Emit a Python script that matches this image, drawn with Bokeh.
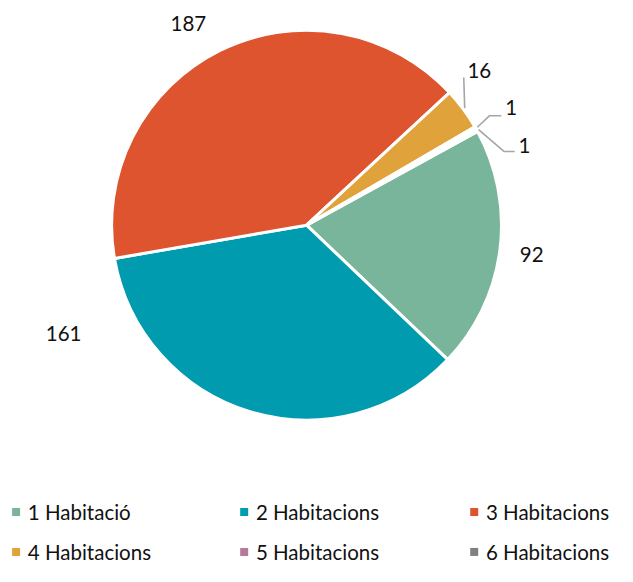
import math
from bokeh.plotting import figure
from bokeh.models import Range1d, ColumnDataSource
from bokeh.core.properties import value
from bokeh.embed import file_html
from bokeh.resources import INLINE

# ---------------- data ----------------
categories = ["1 Habitació", "2 Habitacions", "3 Habitacions",
              "4 Habitacions", "5 Habitacions", "6 Habitacions"]
counts = [92, 161, 187, 16, 1, 1]
colors = ["#78B59A", "#009BAE", "#DD542E", "#E0A23B", "#B57A9A", "#808080"]

# ---------------- layout / style ----------------
W, H = 617, 566                # canvas size in px
RW, RH = 633, 582              # reference frame (data units)
FONT = "Lato"
FONT_SIZE = "20.5px"
START_DEG = 28.7               # first slice starts here, slices go clockwise
CX_S, CY_S, R = 314, 231, 200  # pie centre and radius (reference units)
label_shift_deg = [0, -49, 4, 5.3, 0, -9]
label_radius = [233, 273, 240, 238, 242, 238]
leader_end_off = [None, None, None, (-16, 7), (-10, 8), (-10, 6)]
leader_knee_dx = [0, 0, 0, 0, -12, -11]
legend_col_x = [16, 250, 486]
legend_row_y = [526, 567]
legend_text_dx = 12


def fx(sx):
    return sx


def fy(sy):
    return RH - sy


CX, CY = fx(CX_S), fy(CY_S)

p = figure(width=W, height=H, output_backend="svg", toolbar_location=None,
           x_range=Range1d(0, RW), y_range=Range1d(0, RH), min_border=0)
p.axis.visible = False
p.grid.visible = False
p.outline_line_color = None
p.background_fill_color = "white"
p.border_fill_color = "white"

total = sum(counts)
starts, ends, mids = [], [], []
cum = 0.0
for c in counts:
    a0 = START_DEG - 360.0 * cum / total
    cum += c
    a1 = START_DEG - 360.0 * cum / total
    starts.append(math.radians(a0))
    ends.append(math.radians(a1))
    mids.append((a0 + a1) / 2.0)

src = ColumnDataSource(dict(start=starts, end=ends, color=colors))
p.wedge(x=CX, y=CY, radius=R, start_angle="start", end_angle="end",
        direction="clock", fill_color="color", line_color="white",
        line_width=3, source=src)

# data labels
lx, ly, lt = [], [], []
for i, c in enumerate(counts):
    a = math.radians(mids[i] + label_shift_deg[i])
    lx.append(CX + label_radius[i] * math.cos(a))
    ly.append(CY + label_radius[i] * math.sin(a))
    lt.append(str(c))
p.text(x=lx, y=ly, text=lt, text_font=value(FONT), text_font_size=FONT_SIZE,
       text_color="#111111", text_align="center", text_baseline="middle")

# leader lines for the small slices
for i in range(len(counts)):
    off = leader_end_off[i]
    if off is None:
        continue
    a = math.radians(mids[i])
    x0 = CX + (R + 2) * math.cos(a)
    y0 = CY + (R + 2) * math.sin(a)
    ex = lx[i] + off[0]
    ey = ly[i] - off[1]
    kx = ex + leader_knee_dx[i]
    p.line(x=[x0, kx, ex], y=[y0, ey, ey], line_color="#A6A6A6", line_width=1.6)

# legend
mx, my, tx, ty = [], [], [], []
for i, name in enumerate(categories):
    col, row = i % 3, i // 3
    mx.append(fx(legend_col_x[col]))
    my.append(fy(legend_row_y[row]))
    tx.append(fx(legend_col_x[col] + legend_text_dx))
    ty.append(fy(legend_row_y[row]))
p.scatter(x=mx, y=my, marker="square", size=8, fill_color=colors, line_color=None)
p.text(x=tx, y=ty, text=categories, text_font=value(FONT), text_font_size=FONT_SIZE,
       text_color="#111111", text_align="left", text_baseline="middle")

open("out.html", "w").write(file_html(p, INLINE))
